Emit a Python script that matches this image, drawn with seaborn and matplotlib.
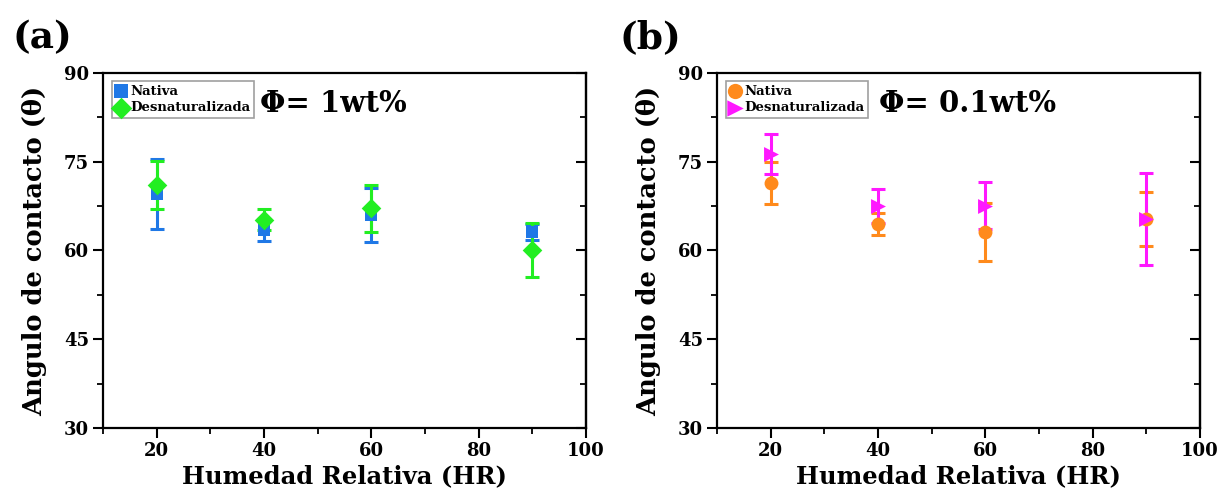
import matplotlib
matplotlib.use("Agg")
import matplotlib.pyplot as plt
import seaborn as sns
import pandas as pd
from matplotlib.ticker import MultipleLocator

hr = [20, 40, 60, 90]
a_nativa = [69.5, 63.5, 66.0, 63.1]
a_nativa_err = [5.9, 1.9, 4.5, 1.4]
a_desnat = [71.1, 65.2, 67.1, 60.1]
a_desnat_err = [4.1, 1.8, 4.0, 4.6]
b_nativa = [71.4, 64.5, 63.2, 65.3]
b_nativa_err = [3.5, 1.9, 4.9, 4.5]
b_desnat = [76.3, 67.5, 67.6, 65.3]
b_desnat_err = [3.4, 2.9, 3.9, 7.8]

labels = ["Nativa", "Desnaturalizada"]
xticks = [20, 40, 60, 80, 100]
yticks = [30, 45, 60, 75, 90]

sns.set_theme(style="white")
plt.rcParams['font.family'] = ['DejaVu Serif']
plt.rcParams['font.weight'] = 'bold'
plt.rcParams['axes.labelweight'] = 'bold'
for k in ['text.color', 'axes.labelcolor', 'xtick.color', 'ytick.color']:
    plt.rcParams[k] = 'black'

fig = plt.figure(figsize=(12.27, 5.03), dpi=100)
ax_a = fig.add_axes([0.0839, 0.149, 0.3937, 0.706])
ax_b = fig.add_axes([0.5843, 0.149, 0.3937, 0.706])

panels = [
    (ax_a, a_nativa, a_nativa_err, a_desnat, a_desnat_err,
     ["#1f78e6", "#22ee22"], ["s", "D"], [80, 100], "Φ= 1wt%", 0.325, "(a)", 0.010),
    (ax_b, b_nativa, b_nativa_err, b_desnat, b_desnat_err,
     ["#ff8a1c", "#ff18ff"], ["o", ">"], [100, 115], "Φ= 0.1wt%", 0.335, "(b)", 0.505),
]

for ax, nat, nerr, des, derr, cols, mks, sizes, phi, phix, plabel, plx in panels:
    for vals, errs, col, mk, sz, lab in zip([nat, des], [nerr, derr], cols, mks, sizes, labels):
        df = pd.DataFrame({"HR": hr, "theta": vals})
        ax.errorbar(hr, vals, yerr=errs, fmt="none", ecolor=col, elinewidth=2.2,
                    capsize=5, capthick=2.2, zorder=2)
        sns.scatterplot(data=df, x="HR", y="theta", ax=ax, color=col, marker=mk,
                        s=sz, edgecolor=col, linewidth=0, label=lab, zorder=3)
    ax.set_xlim(10, 100)
    ax.set_ylim(30, 90)
    ax.set_xticks(xticks)
    ax.set_yticks(yticks)
    ax.xaxis.set_minor_locator(MultipleLocator(10))
    ax.yaxis.set_minor_locator(MultipleLocator(7.5))
    ax.tick_params(axis="both", which="major", direction="out", length=7, width=1.5,
                   labelsize=13, bottom=True, left=True, pad=3)
    ax.tick_params(axis="both", which="minor", direction="out", length=4, width=1.3,
                   bottom=True, left=True)
    for lbl in ax.get_xticklabels() + ax.get_yticklabels():
        lbl.set_fontweight("bold")
    sec = ax.secondary_yaxis("right")
    sec.set_yticks(yticks)
    sec.yaxis.set_minor_locator(MultipleLocator(7.5))
    sec.tick_params(which="major", direction="in", length=7, width=1.5, labelright=False)
    sec.tick_params(which="minor", direction="in", length=4, width=1.3)
    sec.spines["right"].set_linewidth(1.6)
    for s in ax.spines.values():
        s.set_linewidth(1.6)
        s.set_color("black")
    ax.set_xlabel("Humedad Relativa (HR)", fontsize=17.5, fontweight="bold", labelpad=3)
    ax.set_ylabel("Angulo de contacto (θ)", fontsize=18.5, fontweight="bold", labelpad=12)
    leg = ax.legend(loc="upper left", bbox_to_anchor=(0.018, 0.978),
                    frameon=True, fancybox=False, borderpad=0.3, labelspacing=0.25,
                    handlelength=0.8, handletextpad=0.3, borderaxespad=0, markerscale=1.1,
                    prop={"family": "DejaVu Serif", "weight": "bold", "size": 9.5})
    leg.get_frame().set_edgecolor("#888888")
    leg.get_frame().set_linewidth(1.2)
    ax.text(phix, 0.915, phi, transform=ax.transAxes, fontsize=21, fontweight="bold",
            va="center", ha="left")
    fig.text(plx, 0.925, plabel, fontsize=27, fontweight="bold", ha="left", va="center")

fig.savefig("out.png", dpi=100)
